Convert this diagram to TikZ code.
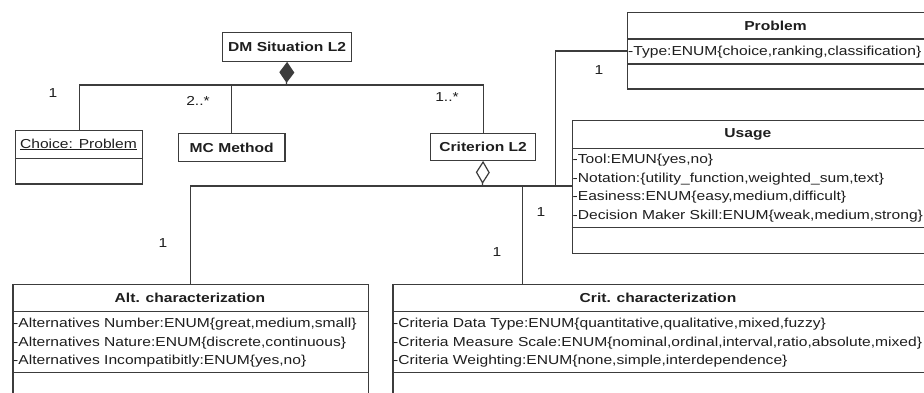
\documentclass[tikz,border=0pt]{standalone}
\usepackage{fontspec}
\setmainfont{Liberation Sans}[FakeStretch=1.2]
\usetikzlibrary{arrows.meta}
\definecolor{lc}{HTML}{3C3C3C}
\definecolor{tc}{HTML}{1E1E1E}
\tikzset{
  umlbox/.style={draw=lc, line width=1.2pt, rectangle, inner sep=0pt, anchor=north west, text=tc,
    font=\fontsize{13}{16}\selectfont\bfseries},
  titletext/.style={font=\fontsize{13}{16}\selectfont\bfseries, text=tc, inner sep=0pt},
  attr/.style={font=\fontsize{13}{16}\selectfont, text=tc, inner sep=0pt, anchor=base west},
  mult/.style={font=\fontsize{13}{16}\selectfont, text=tc, inner sep=0pt},
  conn/.style={draw=lc, line width=1.2pt},
  divline/.style={draw=lc, line width=1.2pt},
}
\begin{document}
\begin{tikzpicture}[x=1pt,y=-1pt]
\useasboundingbox (0,0) rectangle (924,392);
\fill[white] (0,0) rectangle (924,392);
\clip (0,0) rectangle (924,392);

% ---- boxes ----
\node[umlbox, minimum width=129pt, minimum height=28.7pt] (dm) at (222,32) {DM Situation L2};
\node[umlbox, minimum width=127pt, minimum height=53.3pt] (choice) at (15,130) {};
\node[umlbox, minimum width=106.3pt, minimum height=28.3pt] (mc) at (178,132.7) {MC Method};
\node[umlbox, minimum width=105pt, minimum height=27pt] (crit2) at (430,132.7) {Criterion L2};
\node[umlbox, minimum width=310pt, minimum height=76.3pt] (problem) at (627,12) {};
\node[umlbox, minimum width=360pt, minimum height=132.7pt] (usage) at (571.7,120) {};
\node[umlbox, minimum width=355.4pt, minimum height=130pt] (alt) at (12.3,284) {};
\node[umlbox, minimum width=545pt, minimum height=130pt] (critc) at (392.3,284) {};

% ---- compartments ----
\draw[divline] (15,158.5) -- (142,158.5);
\draw[divline] (627,39) -- (937,39);
\draw[divline] (627,64) -- (937,64);
\draw[divline] (571.7,148.3) -- (931.7,148.3);
\draw[divline] (571.7,227.7) -- (931.7,227.7);
\draw[divline] (12.3,311.7) -- (367.7,311.7);
\draw[divline] (12.3,372.7) -- (367.7,372.7);
\draw[divline] (392.3,311.7) -- (937,311.7);
\draw[divline] (392.3,372.7) -- (937,372.7);

% ---- titles ----
\node[mult] (choicet) at (78.5,144.5) {\underline{Choice: Problem}};
\node[titletext] (problemt) at (775.5,25.5) {Problem};
\node[titletext] (usaget) at (747.8,134) {Usage};
\node[titletext] (altt) at (190,297.5) {Alt. characterization};
\node[titletext] (critct) at (658,297.5) {Crit. characterization};

% ---- attributes ----
\node[attr] (pa1) at (628,55.6) {-Type:ENUM\{choice,ranking,classification\}};
\node[attr] (ua1) at (572.5,163.6) {-Tool:EMUN\{yes,no\}};
\node[attr] (ua2) at (572.5,182.2) {-Notation:\{utility\_function,weighted\_sum,text\}};
\node[attr] (ua3) at (572.5,200.8) {-Easiness:ENUM\{easy,medium,difficult\}};
\node[attr] (ua4) at (572.5,219.4) {-Decision Maker Skill:ENUM\{weak,medium,strong\}};
\node[attr] (aa1) at (13,327.6) {-Alternatives Number:ENUM\{great,medium,small\}};
\node[attr] (aa2) at (13,346.1) {-Alternatives Nature:ENUM\{discrete,continuous\}};
\node[attr] (aa3) at (13,364.6) {-Alternatives Incompatibitly:ENUM\{yes,no\}};
\node[attr] (ca1) at (393,327.6) {-Criteria Data Type:ENUM\{quantitative,qualitative,mixed,fuzzy\}};
\node[attr] (ca2) at (393,346.1) {-Criteria Measure Scale:ENUM\{nominal,ordinal,interval,ratio,absolute,mixed\}};
\node[attr] (ca3) at (393,364.6) {-Criteria Weighting:ENUM\{none,simple,interdependence\}};

% ---- connectors ----
\coordinate (bus) at (286.5,85);
\coordinate (bus2) at (482.5,186);
\coordinate (critTop) at (522.3,284);
\coordinate (pTurn) at (555.7,51);

\draw[conn] (choice.north) |- (bus);
\draw[conn] (mc.north) |- (bus);
\draw[conn] (crit2.north) |- (bus);
\draw[conn, -{Diamond[length=21pt,width=15pt]}] (bus) -- (dm.south);

\draw[conn] (bus2) -| (alt.north);
\draw[conn] (bus2) -| (critTop);
\draw[conn] (bus2) -- (bus2 -| usage.west);
\draw[conn] (bus2) -| (pTurn) -- (pTurn -| problem.west);
\draw[conn, -{Diamond[length=23pt,width=14pt,fill=white]}] (bus2) -- (crit2.south);

% ---- multiplicities ----
\node[mult] (m1) at (53,93) {1};
\node[mult] (m2) at (198,101) {2..*};
\node[mult] (m3) at (447,97) {1..*};
\node[mult] (m4) at (599,70) {1};
\node[mult] (m5) at (541,212) {1};
\node[mult] (m6) at (497,252) {1};
\node[mult] (m7) at (163,243) {1};
\end{tikzpicture}
\end{document}
